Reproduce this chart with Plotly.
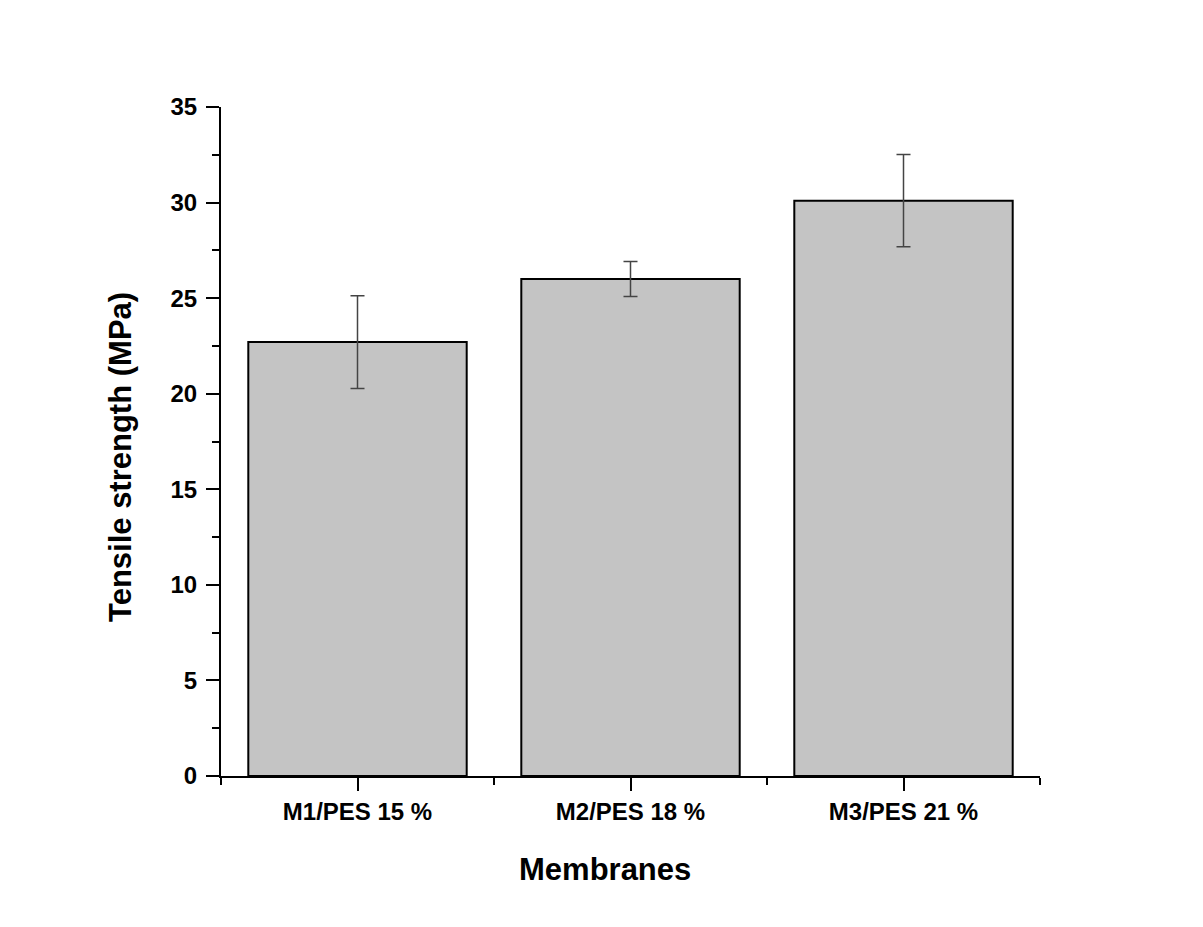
import plotly.graph_objects as go

categories = ["M1/PES 15 %", "M2/PES 18 %", "M3/PES 21 %"]
tensile = [22.7, 26.0, 30.1]
errors = [2.43, 0.92, 2.41]
y_ticks = [0, 5, 10, 15, 20, 25, 30, 35]

xpos = list(range(len(categories)))

fig = go.Figure()
fig.add_trace(go.Bar(
    x=xpos, y=tensile, width=0.8,
    marker=dict(color="#c4c4c4", line=dict(color="black", width=2)),
    error_y=dict(type="data", array=errors, visible=True,
                 color="#444444", thickness=1.5, width=7),
))

font_family = "Liberation Sans, Arial, sans-serif"

L, T, R, B = 213, 99, 171, 159
W, H = 1203, 927
pw = W - L - R
ph = H - T - B


def px_to_paper(xp, yp):
    return (xp - L) / pw, (H - B - yp) / ph


xt = px_to_paper(597, 861)
yt = px_to_paper(112, 449)

fig.update_layout(
    width=W, height=H,
    margin=dict(l=L, r=R, t=T, b=B),
    paper_bgcolor="white", plot_bgcolor="white",
    showlegend=False,
    font=dict(family=font_family, color="black", size=20, weight="bold"),
    xaxis=dict(
        range=[-0.5, 2.5], tickmode="array", tickvals=xpos, ticktext=categories,
        showline=True, linecolor="black", linewidth=2, mirror=False,
        ticks="outside", ticklen=13, tickwidth=2, tickcolor="black",
        showgrid=False, zeroline=False,
        tickfont=dict(size=24, family=font_family, weight="bold"),
        minor=dict(tickmode="array", tickvals=[-0.5, 0.5, 1.5, 2.5],
                   ticks="outside", ticklen=7, tickwidth=2, tickcolor="black",
                   showgrid=False),
    ),
    yaxis=dict(
        range=[0, 35], tickmode="array", tickvals=y_ticks,
        showline=True, linecolor="black", linewidth=2,
        ticks="outside", ticklen=13, tickwidth=2, tickcolor="black",
        showgrid=False, zeroline=False,
        tickfont=dict(size=24, family=font_family, weight="bold"),
        ticklabelstandoff=4,
        minor=dict(dtick=2.5, tick0=0, ticks="outside", ticklen=7,
                   tickwidth=2, tickcolor="black", showgrid=False),
    ),
    annotations=[
        dict(text="Membranes", x=xt[0], y=xt[1], xref="paper", yref="paper",
             xanchor="center", yanchor="middle",
             showarrow=False, font=dict(size=31, family=font_family, weight="bold")),
        dict(text="Tensile strength (MPa)", x=yt[0], y=yt[1], xref="paper", yref="paper",
             xanchor="center", yanchor="middle",
             showarrow=False, textangle=-90,
             font=dict(size=31, family=font_family, weight="bold")),
    ],
)

fig.write_html("out.html")
